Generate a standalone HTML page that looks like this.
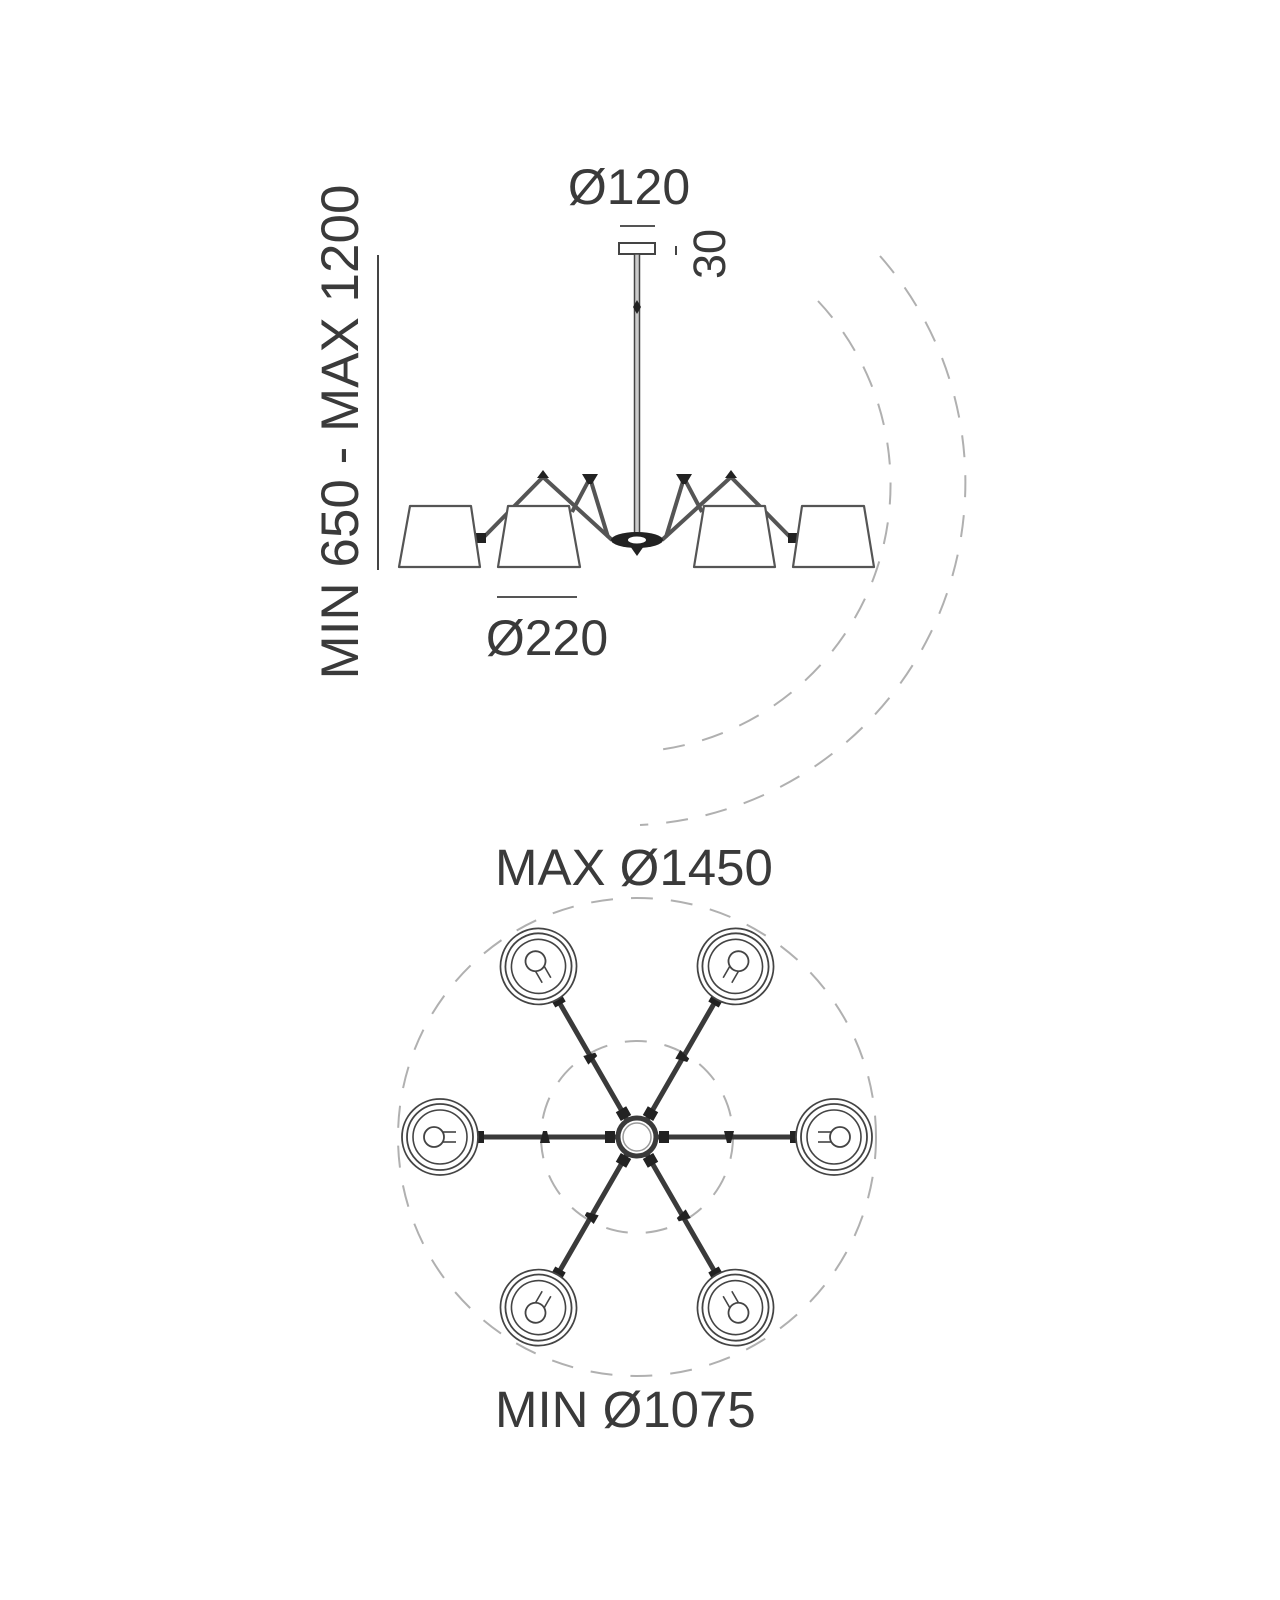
<!DOCTYPE html>
<html><head><meta charset="utf-8"><style>
html,body{margin:0;padding:0;background:#fff;}
svg{display:block;}
text{font-family:"Liberation Sans",Arial,sans-serif;fill:#3a3a3a;}
</style></head><body>
<svg width="1280" height="1600" viewBox="0 0 1280 1600" xmlns="http://www.w3.org/2000/svg">
<defs>
<g id="lamp">
  <line x1="658" y1="1137" x2="798" y2="1137" stroke="#3a3a3a" stroke-width="5"/>
  <rect x="659" y="1131" width="10" height="12" fill="#222"/>
  <polygon points="724,1131 734,1131 731,1143 727,1143" fill="#222"/>
  <rect x="790" y="1131" width="9" height="12" fill="#222"/>
  <circle cx="834" cy="1137" r="38" fill="#fff" stroke="#444" stroke-width="1.8"/>
  <circle cx="834" cy="1137" r="33" fill="none" stroke="#444" stroke-width="1.8"/>
  <circle cx="834" cy="1137" r="27" fill="none" stroke="#444" stroke-width="1.6"/>
  <line x1="818" y1="1132" x2="832" y2="1132" stroke="#444" stroke-width="1.6"/>
  <line x1="818" y1="1142" x2="832" y2="1142" stroke="#444" stroke-width="1.6"/>
  <circle cx="840" cy="1137" r="10" fill="#fff" stroke="#444" stroke-width="1.8"/>
</g>
</defs>

<!-- Side view -->
<!-- vertical dimension -->
<line x1="378" y1="255" x2="378" y2="570" stroke="#444" stroke-width="2"/>
<text transform="translate(358,432) rotate(-90)" text-anchor="middle" font-size="53">MIN 650 - MAX 1200</text>

<text x="629" y="204" text-anchor="middle" font-size="50">Ø120</text>
<line x1="620" y1="226" x2="655" y2="226" stroke="#555" stroke-width="2"/>
<rect x="619" y="243" width="36" height="11" fill="#fff" stroke="#444" stroke-width="2"/>
<line x1="676" y1="246" x2="676" y2="255" stroke="#444" stroke-width="2"/>
<text transform="translate(725,254) rotate(-90)" text-anchor="middle" font-size="45">30</text>

<!-- stem -->
<rect x="634.5" y="254" width="5" height="282" fill="#ccc" stroke="#444" stroke-width="1.5"/>
<polygon points="637,300 641,307 637,314 633,307" fill="#222"/>

<!-- arms -->
<g stroke="#555" stroke-width="4" fill="none" stroke-linejoin="round">
  <polyline points="612,540 543,477 481,540"/>
  <polyline points="608,537 590,478 572,512"/>
  <polyline points="662,540 731,477 793,540"/>
  <polyline points="666,537 684,478 702,512"/>
</g>
<g fill="#222">
  <polygon points="537,478 549,478 543,470"/>
  <polygon points="725,478 737,478 731,470"/>
  <polygon points="582,474 598,474 592,484 588,484"/>
  <polygon points="676,474 692,474 686,484 682,484"/>
  <rect x="476" y="533" width="10" height="10"/>
  <rect x="788" y="533" width="10" height="10"/>
  <ellipse cx="637" cy="540" rx="26" ry="8"/>
  <polygon points="630,546 644,546 637,556"/>
</g>
<ellipse cx="637" cy="540" rx="9" ry="3.5" fill="#fff"/>

<!-- shades -->
<g fill="#fff" stroke="#555" stroke-width="2.2" stroke-linejoin="round">
  <polygon points="410,506 471,506 480,567 399,567"/>
  <polygon points="508,506 569,506 580,567 498,567"/>
  <polygon points="704,506 765,506 775,567 694,567"/>
  <polygon points="802,506 864,506 874,567 793,567"/>
</g>
<line x1="497" y1="597" x2="577" y2="597" stroke="#555" stroke-width="2"/>
<text x="547" y="655" text-anchor="middle" font-size="50">Ø220</text>

<!-- side dashed arcs, center (622,482) -->
<g fill="none" stroke="#b0b0b0" stroke-width="2" stroke-dasharray="22 18">
  <path d="M 880 256 A 343 343 0 0 1 640 825"/>
  <path d="M 818 301 A 268 268 0 0 1 658 750"/>
</g>

<!-- Top view -->
<text x="495" y="885" font-size="51">MAX Ø1450</text>
<g fill="none" stroke="#b0b0b0" stroke-width="2" stroke-dasharray="22 18">
  <circle cx="637" cy="1137" r="239"/>
  <circle cx="637" cy="1137" r="96"/>
</g>
<use href="#lamp" transform="rotate(0 637 1137)"/>
<use href="#lamp" transform="rotate(60 637 1137)"/>
<use href="#lamp" transform="rotate(120 637 1137)"/>
<use href="#lamp" transform="rotate(180 637 1137)"/>
<use href="#lamp" transform="rotate(240 637 1137)"/>
<use href="#lamp" transform="rotate(300 637 1137)"/>
<circle cx="637" cy="1137" r="19" fill="#fff" stroke="#3a3a3a" stroke-width="5"/>
<circle cx="637" cy="1137" r="14" fill="#fff" stroke="#999" stroke-width="1.5"/>
<text x="495" y="1427" font-size="51">MIN Ø1075</text>
</svg>
</body></html>
